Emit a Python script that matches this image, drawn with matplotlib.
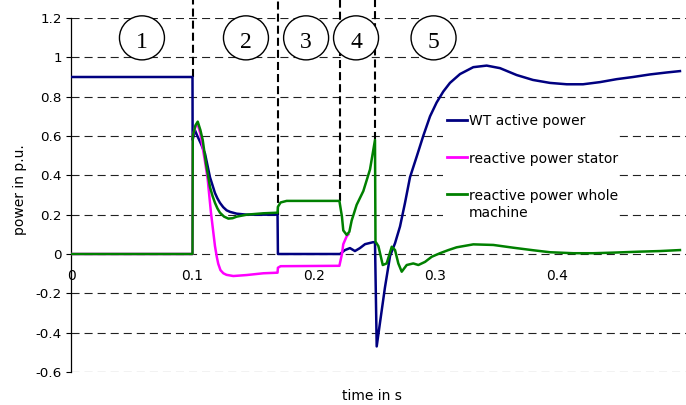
import matplotlib
matplotlib.use('Agg')
import matplotlib.pyplot as plt
from matplotlib.patches import Ellipse, Rectangle
from matplotlib.lines import Line2D

plt.rcParams['font.family'] = ['DejaVu Sans']
plt.rcParams['axes.unicode_minus'] = False
plt.rcParams['lines.scale_dashes'] = False

# ---------------- data ----------------
t_active = [0, 0.1, 0.1001, 0.102, 0.104, 0.107, 0.1103, 0.1144, 0.1185, 0.1205, 0.1226,
            0.1253, 0.1281, 0.1310, 0.1364, 0.1446, 0.17, 0.1703, 0.2214, 0.2255, 0.2296,
            0.2337, 0.2378, 0.2420, 0.2486, 0.2502, 0.2516, 0.2543, 0.2584, 0.2626, 0.2667,
            0.2708, 0.2749, 0.2790, 0.2845, 0.2899, 0.2955, 0.3009, 0.3064, 0.3119, 0.3202,
            0.3311, 0.3421, 0.3531, 0.3668, 0.3802, 0.3942, 0.4080, 0.4214, 0.4354, 0.4491,
            0.4626, 0.4765, 0.4903, 0.5012]
p_active = [0.9, 0.9, 0.58, 0.63, 0.60, 0.56, 0.51, 0.39, 0.31, 0.283, 0.26,
            0.238, 0.222, 0.214, 0.205, 0.2, 0.2, 0.0, 0.0, 0.02, 0.03,
            0.015, 0.03, 0.05, 0.06, 0.06, -0.47, -0.35, -0.17, -0.01, 0.055,
            0.14, 0.26, 0.39, 0.495, 0.60, 0.70, 0.77, 0.826, 0.87, 0.915,
            0.95, 0.958, 0.945, 0.91, 0.885, 0.87, 0.863, 0.863, 0.874, 0.889,
            0.90, 0.913, 0.923, 0.93]

t_stator = [0, 0.1, 0.1002, 0.1025, 0.1043, 0.1065, 0.1084, 0.1103, 0.1125, 0.1152, 0.1185,
            0.1200, 0.1212, 0.1230, 0.1254, 0.1280, 0.1336, 0.1446, 0.1583, 0.17, 0.1703,
            0.1725, 0.2209, 0.2230, 0.2241, 0.2269, 0.2283]
q_stator = [0, 0, 0.60, 0.65, 0.66, 0.61, 0.54, 0.47, 0.38, 0.21, 0.04,
            -0.015, -0.05, -0.082, -0.098, -0.106, -0.112, -0.107, -0.098, -0.095, -0.07,
            -0.062, -0.06, 0.0, 0.05, 0.09, 0.10]

t_machine = [0, 0.1, 0.1002, 0.1025, 0.1043, 0.1065, 0.1084, 0.1111, 0.1144, 0.1165, 0.1185,
             0.1205, 0.1226, 0.1260, 0.1295, 0.1330, 0.1364, 0.1446, 0.1583, 0.17, 0.1703,
             0.1725, 0.1775, 0.2209, 0.2230, 0.2241, 0.2269, 0.2291, 0.2310, 0.2351, 0.2406,
             0.2461, 0.2502, 0.2506, 0.2530, 0.2566, 0.2598, 0.2640, 0.2667, 0.2694, 0.2722,
             0.2763, 0.2817, 0.2859, 0.2914, 0.2969, 0.3037, 0.3106, 0.3174, 0.3311, 0.3476,
             0.3640, 0.3805, 0.3942, 0.4134, 0.4299, 0.4463, 0.4683, 0.4848, 0.5012]
q_machine = [0, 0, 0.60, 0.655, 0.673, 0.63, 0.58, 0.46, 0.34, 0.295, 0.26,
             0.232, 0.21, 0.19, 0.18, 0.182, 0.19, 0.2, 0.207, 0.21, 0.24,
             0.262, 0.27, 0.27, 0.19, 0.12, 0.097, 0.113, 0.17, 0.25, 0.32,
             0.43, 0.58, 0.063, 0.04, -0.056, -0.048, 0.037, 0.02, -0.048, -0.09,
             -0.056, -0.048, -0.056, -0.04, -0.014, 0.004, 0.02, 0.034, 0.049, 0.046,
             0.032, 0.019, 0.009, 0.004, 0.004, 0.007, 0.012, 0.015, 0.02]

series_labels = ["WT active power", "reactive power stator", "reactive power whole\nmachine"]
series_colors = ['#000080', '#FF00FF', '#008000']

x_ticks = [0, 0.1, 0.2, 0.3, 0.4]
x_tick_labels = ['0', '0.1', '0.2', '0.3', '0.4']
y_ticks = [-0.6, -0.4, -0.2, 0, 0.2, 0.4, 0.6, 0.8, 1.0, 1.2]
y_tick_labels = ['-0.6', '-0.4', '-0.2', '0', '0.2', '0.4', '0.6', '0.8', '1', '1.2']

phase_bounds = [0.1, 0.17, 0.2215, 0.2502]
phase_bound_ends = [0.9, 0.2, 0.27, 0.58]
phase_labels = ['1', '2', '3', '4', '5']
phase_label_x = [0.0584, 0.1440, 0.1935, 0.2346, 0.2984]

# ---------------- figure ----------------
W, H = 686, 405
fig = plt.figure(figsize=(W / 100, H / 100), dpi=100)
ax = fig.add_axes([71 / W, 33 / H, 1 - 71 / W, (372 - 18) / H])
ax.set_xlim(0, 615 / 1215)
ax.set_ylim(-0.6, 1.2)

ax.set_yticks(y_ticks)
ax.set_yticklabels(y_tick_labels, fontsize=9.7)
ax.set_xticks(x_ticks)
ax.set_xticklabels(x_tick_labels, fontsize=9.7)

for s in ['top', 'right']:
    ax.spines[s].set_visible(False)
ax.spines['bottom'].set_position(('data', 0))
ax.spines['bottom'].set_visible(False)
ax.spines['left'].set_linewidth(0.9)
ax.tick_params(axis='y', length=3.6, width=0.8, pad=3.0, direction='out')
ax.tick_params(axis='x', length=0, pad=11)

ax.yaxis.grid(True, color='#222222', lw=0.8, linestyle=(0, (5.8, 3.6)))
ax.set_axisbelow(True)

# curves
ax.plot(t_active, p_active, color=series_colors[0], lw=1.8, zorder=3,
        solid_joinstyle='round')
ax.plot(t_stator, q_stator, color=series_colors[1], lw=1.8, zorder=3.1,
        solid_joinstyle='round')
ax.plot(t_machine, q_machine, color=series_colors[2], lw=1.8, zorder=3.2,
        solid_joinstyle='round')

# phase boundaries
top_y = 1.293
for xb, ye in zip(phase_bounds, phase_bound_ends):
    ax.plot([xb, xb], [ye, top_y], color='black', lw=1.5, linestyle=(0, (5.8, 2.9)),
            clip_on=False, zorder=2.8)

# phase circles
for xl, lab in zip(phase_label_x, phase_labels):
    e = Ellipse((xl, 1.099), width=45 / 1215, height=44 / 196.5, facecolor='white',
                edgecolor='black', lw=1.0, clip_on=False, zorder=4)
    ax.add_patch(e)
    ax.text(xl, 1.050, lab, ha='center', va='baseline', fontsize=17,
            family=['Liberation Serif', 'DejaVu Serif'], zorder=5)

# legend (manual, white background)
def fx(px):
    return px / W
def fy(py):
    return 1 - py / H

ax.add_patch(Rectangle((fx(443), fy(222)), fx(615) - fx(443), fy(105) - fy(222),
                       transform=fig.transFigure, facecolor='white', edgecolor='none', zorder=2.5))
handle_rows = [120, 157, 194]
baseline_rows = [125, 162.5, 200]
for lab, col, hy, by in zip(series_labels, series_colors, handle_rows, baseline_rows):
    ax.add_line(Line2D([fx(447), fx(467)], [fy(hy), fy(hy)], transform=fig.transFigure,
                       color=col, lw=2.0, zorder=6))
    for k, line in enumerate(lab.split('\n')):
        fig.text(fx(469), fy(by + 16.7 * k), line, ha='left', va='baseline', fontsize=10)

# axis labels
fig.text(fx(20), fy(190), 'power in p.u.', rotation=90, ha='center', va='center', fontsize=10)
fig.text(fx(372), fy(396), 'time in s', ha='center', va='center', fontsize=10)

fig.savefig('out.png', dpi=100)
